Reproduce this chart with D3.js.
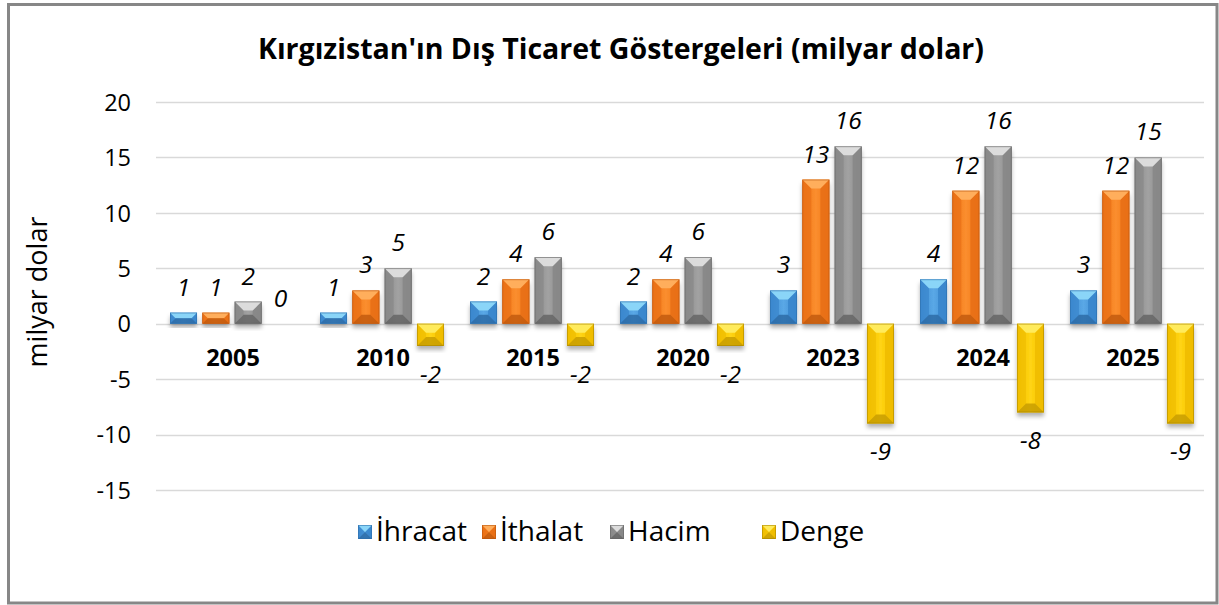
<!DOCTYPE html>
<html>
<head>
<meta charset="utf-8">
<script src="https://cdn.jsdelivr.net/npm/d3@7"></script>
<style>
  body { margin: 0; background: #fff; }
  text { font-family: "Open Sans", sans-serif; }
</style>
</head>
<body>
<div id="chart"></div>
<script>
var years = ["2005", "2010", "2015", "2020", "2023", "2024", "2025"];
var ihracat = [1, 1, 2, 2, 3, 4, 3];
var ithalat = [1, 3, 4, 4, 13, 12, 12];
var hacim = [2, 5, 6, 6, 16, 16, 15];
var denge = [0, -2, -2, -2, -9, -8, -9];
var seriesNames = ["İhracat", "İthalat", "Hacim", "Denge"];
var yTicks = [-15, -10, -5, 0, 5, 10, 15, 20];

var width = 1219, height = 605;

// body, top facet, side facets, bottom facet
var palette = {
  "İhracat": { base: "#3c8bd3", light: "#5aa8e6", top: "#8ad5f8", side: "#3a86cc", bottom: "#2a68a3", edge: "#2d6eaa" },
  "İthalat": { base: "#f07518", light: "#fb8e2e", top: "#ffae5c", side: "#e86f16", bottom: "#bf570c", edge: "#b8560f" },
  "Hacim":   { base: "#8a8a8a", light: "#a2a2a2", top: "#dcdcdc", side: "#878787", bottom: "#626262", edge: "#636363" },
  "Denge":   { base: "#f3c000", light: "#ffd414", top: "#ffeb5c", side: "#f0bd00", bottom: "#c49a00", edge: "#a88400" }
};

var data = years.map(function (y, i) {
  return { year: y, values: [ihracat[i], ithalat[i], hacim[i], denge[i]] };
});

var svg = d3.select("#chart")
  .append("svg")
  .attr("width", width)
  .attr("height", height);

var defs = svg.append("defs");
var shadow = defs.append("filter").attr("id", "shadow")
  .attr("x", "-30%").attr("y", "-30%").attr("width", "160%").attr("height", "160%");
shadow.append("feDropShadow")
  .attr("dx", 0).attr("dy", 4).attr("stdDeviation", 2.2)
  .attr("flood-color", "#000").attr("flood-opacity", 0.3);

seriesNames.forEach(function (s, i) {
  var g = defs.append("linearGradient").attr("id", "grad" + i)
    .attr("x1", "0%").attr("x2", "100%").attr("y1", "0%").attr("y2", "0%");
  g.append("stop").attr("offset", "0%").attr("stop-color", palette[s].base);
  g.append("stop").attr("offset", "50%").attr("stop-color", palette[s].light);
  g.append("stop").attr("offset", "100%").attr("stop-color", palette[s].base);
});

// outer frame
svg.append("rect")
  .attr("x", 8.5).attr("y", 4.5)
  .attr("width", 1208.5).attr("height", 598.5)
  .attr("fill", "#fff")
  .attr("stroke", "#878787")
  .attr("stroke-width", 3);

// title
svg.append("text")
  .attr("x", 621).attr("y", 59)
  .attr("text-anchor", "middle")
  .attr("font-size", 28.5)
  .attr("font-weight", "bold")
  .attr("fill", "#000")
  .text("Kırgızistan'ın Dış Ticaret Göstergeleri (milyar dolar)");

var y = d3.scaleLinear().domain([-15, 20]).range([490, 102]);
var x = d3.scaleBand().domain(years).range([155, 1205]);
var xSub = d3.scaleBand().domain(seriesNames).range([0, 124]).paddingInner(0.164);
var groupOffset = (x.bandwidth() - 124) / 2 + 2;

// gridlines
svg.append("g")
  .selectAll("line")
  .data(yTicks)
  .enter()
  .append("line")
  .attr("x1", 156).attr("x2", 1204)
  .attr("y1", function (d) { return Math.round(y(d)) + 0.5; })
  .attr("y2", function (d) { return Math.round(y(d)) + 0.5; })
  .attr("stroke", "#d9d9d9")
  .attr("stroke-width", 1.5);

// y axis labels
var yAxis = d3.axisLeft(y).tickValues(yTicks).tickSize(0).tickPadding(0)
  .tickFormat(function (d) { return String(d); });
var yg = svg.append("g").attr("transform", "translate(131,0)").call(yAxis);
yg.select(".domain").remove();
yg.selectAll("text")
  .attr("font-family", "Open Sans, sans-serif")
  .attr("font-size", 23.5)
  .attr("fill", "#000")
  .attr("dy", "0.35em");

svg.append("text")
  .attr("transform", "translate(47,292) rotate(-90)")
  .attr("text-anchor", "middle")
  .attr("font-size", 27)
  .attr("fill", "#000")
  .text("milyar dolar");

function bevelBar(g, bx, by, bw, bh, s, idx, noShadow) {
  var c = palette[s];
  var b = Math.min(9, bh / 2, bw / 2);
  g.append("rect")
    .attr("x", bx).attr("y", by).attr("width", bw).attr("height", bh)
    .attr("fill", "url(#grad" + idx + ")")
    .attr("filter", noShadow ? null : "url(#shadow)");
  g.append("polygon")
    .attr("points", [[bx, by], [bx + b, by + b], [bx + b, by + bh - b], [bx, by + bh]].join(" "))
    .attr("fill", c.side).attr("opacity", 0.7);
  g.append("polygon")
    .attr("points", [[bx + bw, by], [bx + bw - b, by + b], [bx + bw - b, by + bh - b], [bx + bw, by + bh]].join(" "))
    .attr("fill", c.side).attr("opacity", 0.9);
  g.append("polygon")
    .attr("points", [[bx, by], [bx + bw, by], [bx + bw - b, by + b], [bx + b, by + b]].join(" "))
    .attr("fill", c.top);
  g.append("polygon")
    .attr("points", [[bx, by + bh], [bx + bw, by + bh], [bx + bw - b, by + bh - b], [bx + b, by + bh - b]].join(" "))
    .attr("fill", c.bottom).attr("opacity", 0.8);
  g.append("rect")
    .attr("x", bx + 0.4).attr("y", by + 0.4).attr("width", bw - 0.8).attr("height", bh - 0.8)
    .attr("fill", "none").attr("stroke", c.edge).attr("stroke-width", 0.8).attr("opacity", 0.7);
}

var groups = svg.append("g")
  .selectAll("g")
  .data(data)
  .enter()
  .append("g")
  .attr("transform", function (d) { return "translate(" + (x(d.year) + groupOffset) + ",0)"; });

groups.each(function (d) {
  var g = d3.select(this);
  d.values.forEach(function (v, i) {
    var s = seriesNames[i];
    var bx = xSub(s), bw = xSub.bandwidth();
    var top = y(Math.max(v, 0)), bot = y(Math.min(v, 0));
    if (v !== 0) bevelBar(g, bx, top, bw, bot - top, s, i);
    g.append("text")
      .attr("x", bx + bw / 2)
      .attr("y", v >= 0 ? top - 17 : bot + 37)
      .attr("text-anchor", "middle")
      .attr("font-size", 24.5)
      .attr("font-style", "italic")
      .attr("fill", "#000")
      .text(v);
  });
});

// category labels
svg.append("g")
  .selectAll("text")
  .data(years)
  .enter()
  .append("text")
  .attr("x", function (d) { return x(d) + x.bandwidth() / 2 + 3; })
  .attr("y", 366)
  .attr("text-anchor", "middle")
  .attr("font-size", 23.5)
  .attr("font-weight", "bold")
  .attr("fill", "#000")
  .text(function (d) { return d; });

// legend
var legendX = [358, 482, 610, 762];
var legend = svg.append("g")
  .selectAll("g")
  .data(seriesNames)
  .enter()
  .append("g")
  .attr("transform", function (d, i) { return "translate(" + legendX[i] + ",525)"; });

legend.each(function (s, i) {
  bevelBar(d3.select(this), 0, 0, 14, 14, s, i, true);
});

legend.append("text")
  .attr("x", 18).attr("y", 16)
  .attr("font-size", 28)
  .attr("fill", "#000")
  .text(function (d) { return d; });
</script>
</body>
</html>
